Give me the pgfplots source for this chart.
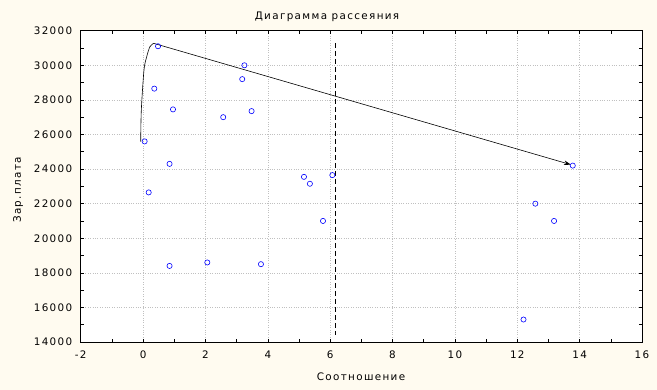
\documentclass[border=0pt]{standalone}
\usepackage{fontspec}
\setmainfont{DejaVu Sans}[LetterSpace=13]
\usepackage{pgfplots}
\pgfplotsset{compat=1.18}
\usetikzlibrary{arrows.meta}
\definecolor{bgc}{RGB}{255,251,240}
\definecolor{gridc}{RGB}{192,192,192}
\begin{document}
\begin{tikzpicture}
\fill[bgc] (0,0) rectangle (657bp,390bp);
\begin{axis}[
  at={(80.7bp,48bp)}, anchor=south west,
  scale only axis, width=561.3bp, height=311.3bp,
  xmin=-2, xmax=16, ymin=14000, ymax=32000,
  xtick={-2,0,...,16}, ytick={14000,16000,...,32000},
  minor x tick num=1, minor y tick num=1,
  tick pos=both, tick align=inside,
  major tick length=3bp, minor tick length=3bp,
  axis line style={black, line width=0.8bp},
  tick style={black, line width=0.6bp},
  grid=major, major grid style={gridc, dotted, line width=0.6bp},
  axis background/.style={fill=white},
  /pgf/number format/assume math mode=true,
  /pgf/number format/set thousands separator={},
  scaled y ticks=false,
  tick label style={font=\fontsize{10.4}{12}\selectfont},
  xticklabel style={yshift=-5bp},
  yticklabel style={xshift=-5bp},
  clip=false,
]
\addplot[only marks, mark=o, mark size=2.6bp, blue, mark options={line width=0.6bp}] coordinates {
(0.48,31100) (0.05,25600) (0.36,28650) (0.96,27450) (2.57,27000)
(3.25,30000) (3.18,29200) (3.48,27350) (0.85,24300) (0.18,22650)
(5.16,23550) (5.35,23150) (6.07,23650) (0.85,18400) (2.06,18600)
(3.78,18500) (5.77,21000) (12.58,22000) (13.18,21000) (12.2,15300)
(13.78,24200)
};
\addplot[black, dashed, dash pattern=on 5bp off 3bp, line width=0.7bp] coordinates {(6.17,31300) (6.17,14400)};
\addplot[black, line width=0.6bp, smooth, tension=0.5] coordinates {
(-0.076,25584) (-0.056,27416) (0.03,29728) (0.117,30497) (0.22,31075) (0.34,31270)};
\addplot[black, line width=0.6bp, -{Stealth[length=7bp,width=4.5bp]}] coordinates {
(0.34,31270) (13.72,24254)};
\end{axis}
\node[anchor=base, font=\fontsize{10.4}{12}\selectfont] at (327bp,370bp) {Диаграмма рассеяния};
\node[anchor=base, font=\fontsize{10.4}{12}\selectfont] at (361bp,9.3bp) {Соотношение};
\node[rotate=90, font=\fontsize{10.4}{12}\selectfont] at (18bp,200bp) {Зар.плата};
\end{tikzpicture}
\end{document}
